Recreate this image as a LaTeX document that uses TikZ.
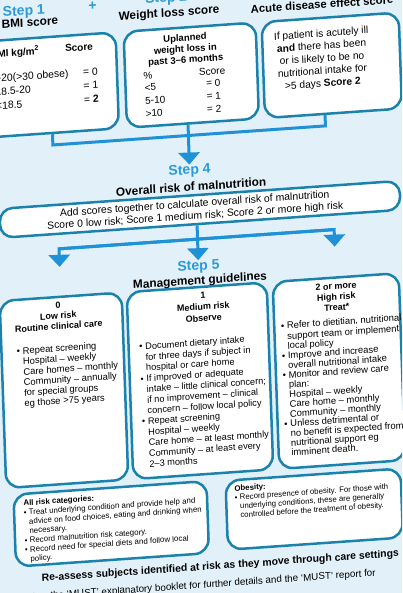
\documentclass[tikz,border=0pt]{standalone}
\usepackage{fontspec}
\setmainfont{Liberation Sans}
\usetikzlibrary{arrows.meta}
\definecolor{bgblue}{HTML}{E2F1F9}
\definecolor{edgeblue}{HTML}{1A82AC}
\definecolor{linkblue}{HTML}{1E91D7}
\definecolor{stepblue}{HTML}{2A9BD8}
\newcommand{\bul}{\makebox[6pt][l]{\textbullet}}
\newcommand{\ind}{\hspace*{6pt}}
\newcommand{\sbul}{\makebox[5pt][l]{\textbullet}}
\newcommand{\sind}{\hspace*{5pt}}
\newcommand{\fs}[2]{\fontsize{#1}{#2}\selectfont}
\begin{document}
\begin{tikzpicture}[x=1pt,y=-1pt,
  panel/.style={draw=edgeblue, line width=2.5pt, fill=white, rounded corners=14pt, inner sep=0pt},
  conn/.style={draw=linkblue, line width=3pt, line join=miter},
  tipped/.style={conn, -{Triangle[length=12pt,width=21pt]}},
  steplab/.style={text=stepblue, font=\bfseries\fs{14}{16}, inner sep=0pt},
  head/.style={font=\bfseries\fs{11.8}{13}, inner sep=0pt},
  txt/.style={font=\fs{10.4}{12}, inner sep=0pt},
  mtxt/.style={font=\fs{10}{12}, inner sep=0pt},
  btxt/.style={font=\bfseries\fs{10}{12}, inner sep=0pt},
  blocktxt/.style={inner sep=0pt, align=left, anchor=north west},
  ctrtxt/.style={inner sep=0pt, align=center, anchor=north}]
\fill[bgblue] (0,0) rectangle (402,593);
\useasboundingbox (0,0) rectangle (402,593);
\clip (0,0) rectangle (402,593);
\begin{scope}[cm={1,0.07,-0.035,1,(-10.36pt,-14.07pt)}, transform shape]
% top headings
\node[steplab, anchor=base west] (s1) at (13,3.6) {Step 1};
\node[steplab] (plus) at (103,-0.6) {+};
\node[steplab, anchor=base west] (s2) at (155.4,0.4) {Step 2};
\node[head, anchor=base west] (h1) at (11.5,15.2) {BMI score};
\node[head, anchor=base] (h2) at (179,15.2) {Weight loss score};
\node[head, font=\bfseries\fs{11.3}{13}, anchor=base] (h3) at (332,17.6) {Acute disease effect score};
% top boxes
\node[panel, minimum width=133pt, minimum height=96pt] (b1) at (58.5,75) {};
\node[panel, minimum width=132pt, minimum height=96pt] (b2) at (199,75) {};
\node[panel, minimum width=137pt, minimum height=96pt] (b3) at (339.5,75) {};
% box 1 content
\node[btxt, anchor=base west] (b1h) at (-1,43.6) {BMI kg/m\textsuperscript{2}};
\node[btxt, anchor=base] (b1s) at (88,43.1) {Score};
\node[txt, anchor=base west] (b1r1) at (3,68.2) {>20(>30 obese)};
\node[txt, anchor=base west] (b1r2) at (3,81.7) {18.5-20};
\node[txt, anchor=base west] (b1r3) at (3,95.7) {<18.5};
\node[txt, anchor=base east] (b1v1) at (106,68.2) {= 0};
\node[txt, anchor=base east] (b1v2) at (106,81.7) {= 1};
\node[txt, anchor=base east] (b1v3) at (106,95.7) {= \textbf{2}};
% box 2 content
\node[ctrtxt, font=\bfseries\fs{9.5}{11}] (b2h) at (194,32.7) {\strut Uplanned\\weight loss in\\past 3--6 months};
\node[mtxt, anchor=base west] (b2p) at (151,76.1) {\%};
\node[mtxt, anchor=base] (b2s) at (220,76.1) {Score};
\node[mtxt, anchor=base west] (b2r1) at (152,87.6) {<5};
\node[mtxt, anchor=base west] (b2r2) at (152,100.6) {5-10};
\node[mtxt, anchor=base west] (b2r3) at (152,113.6) {>10};
\node[mtxt, anchor=base east] (b2v1) at (228,87.6) {= 0};
\node[mtxt, anchor=base east] (b2v2) at (228,100.6) {= 1};
\node[mtxt, anchor=base east] (b2v3) at (228,113.6) {= 2};
% box 3 content
\node[ctrtxt, font=\fs{10.2}{12.5}] (b3t) at (330,36.9) {\strut If patient is acutely ill\\\textbf{and} there has been\\or is likely to be no\\nutritional intake for\\>5 days \textbf{Score 2}};
% step 4
\node[steplab, anchor=base] (s4) at (194,174) {Step 4};
\node[head, anchor=base] (h4) at (195,190.5) {Overall risk of malnutrition};
\node[panel, rounded corners=13pt, minimum width=400pt, minimum height=29pt] (b4) at (203,209.5) {};
\node[ctrtxt, font=\fs{10.4}{12}] (b4t) at (198,198.3) {\strut Add scores together to calculate overall risk of malnutrition\\Score 0 low risk; Score 1 medium risk; Score 2 or more high risk};
% step 5
\node[steplab, anchor=base] (s5) at (199.5,270) {Step 5};
\node[head, anchor=base] (h5) at (200.5,284.2) {Management guidelines};
\node[panel, minimum width=122pt, minimum height=187pt] (bL) at (61,380.5) {};
\node[panel, minimum width=140pt, minimum height=187pt] (bM) at (197,380.5) {};
\node[panel, minimum width=126pt, minimum height=187pt] (bR) at (336,380.5) {};
\node[ctrtxt, font=\bfseries\fs{9}{10.5}] (bLh) at (58,290.85) {\strut 0\\Low risk\\Routine clinical care};
\node[blocktxt, font=\fs{9.4}{10.5}] (bLt) at (15,334) {\strut\bul Repeat screening\\\ind Hospital -- weekly\\\ind Care homes -- monthly\\\ind Community -- annually\\\ind for special groups\\\ind eg those >75 years};
\node[ctrtxt, font=\bfseries\fs{9}{11.5}] (bMh) at (203,290.15) {\strut 1\\Medium risk\\Observe};
\node[blocktxt, font=\fs{9.2}{10.7}] (bMt) at (137.5,337.8) {\strut\bul Document dietary intake\\\ind for three days if subject in\\\ind hospital or care home\\\bul If improved or adequate\\\ind intake -- little clinical concern;\\\ind if no improvement -- clinical\\\ind concern -- follow local policy\\\bul Repeat screening\\\ind Hospital -- weekly\\\ind Care home -- at least monthly\\\ind Community -- at least every\\\ind 2--3 months};
\node[ctrtxt, font=\bfseries\fs{9}{10.6}] (bRh) at (336,291.1) {\strut 2 or more\\High risk\\Treat*};
\node[blocktxt, font=\fs{9.4}{9.7}] (bRt) at (279.5,327.6) {\strut\bul Refer to dietitian, nutritional\\\ind support team or implement\\\ind local policy\\\bul Improve and increase\\\ind overall nutritional intake\\\bul Monitor and review care\\\ind plan:\\\ind Hospital -- weekly\\\ind Care home -- monthly\\\ind Community -- monthly\\\bul Unless detrimental or\\\ind no benefit is expected from\\\ind nutritional support eg\\\ind imminent death.};
% bottom boxes
\node[panel, minimum width=193pt, minimum height=72pt] (bA) at (103.5,517) {};
\node[panel, minimum width=175pt, minimum height=69pt] (bO) at (306.5,516.5) {};
\node[blocktxt, font=\fs{7.9}{9.3}] (bAt) at (16.5,486.3) {\strut\textbf{All risk categories:}\\\sbul Treat underlying condition and provide help and\\\sind advice on food choices, eating and drinking when\\\sind necessary.\\\sbul Record malnutrition risk category.\\\sbul Record need for special diets and follow local\\\sind policy.};
\node[blocktxt, font=\fs{7.8}{9}] (bOt) at (227.5,486.5) {\strut\textbf{Obesity:}\\\sbul Record presence of obesity. For those with\\\sind underlying conditions, these are generally\\\sind controlled before the treatment of obesity.};
\node[inner sep=0pt, font=\bfseries\fs{10.4}{12}, anchor=base west] (re) at (32,569.7) {Re-assess subjects identified at risk as they move through care settings};
\node[inner sep=0pt, font=\fs{9.8}{11}, anchor=base west] (see) at (20,587.5) {See the `MUST' explanatory booklet for further details and the `MUST' report for};
% connectors
\draw[conn] (b1.south) -- (b1.south |- 0,135) -- ([xshift=-8.5pt]b3.south |- 0,135) -- ([xshift=-8.5pt]b3.south);
\draw[tipped] (b2.south -| s4.north) -- (s4.north);
\draw[tipped] (b4.south -| s5.north) -- (s5.north);
\coordinate (jl) at (bL.north |- 0,239);
\coordinate (jr) at (bR.north |- 0,239);
\coordinate (tl) at (bL.north |- 0,257);
\coordinate (tr) at (bR.north |- 0,256);
\draw[tipped] (jr) -- (jl) -- (tl);
\draw[tipped] (jl) -- (jr) -- (tr);
\end{scope}
\end{tikzpicture}
\end{document}
